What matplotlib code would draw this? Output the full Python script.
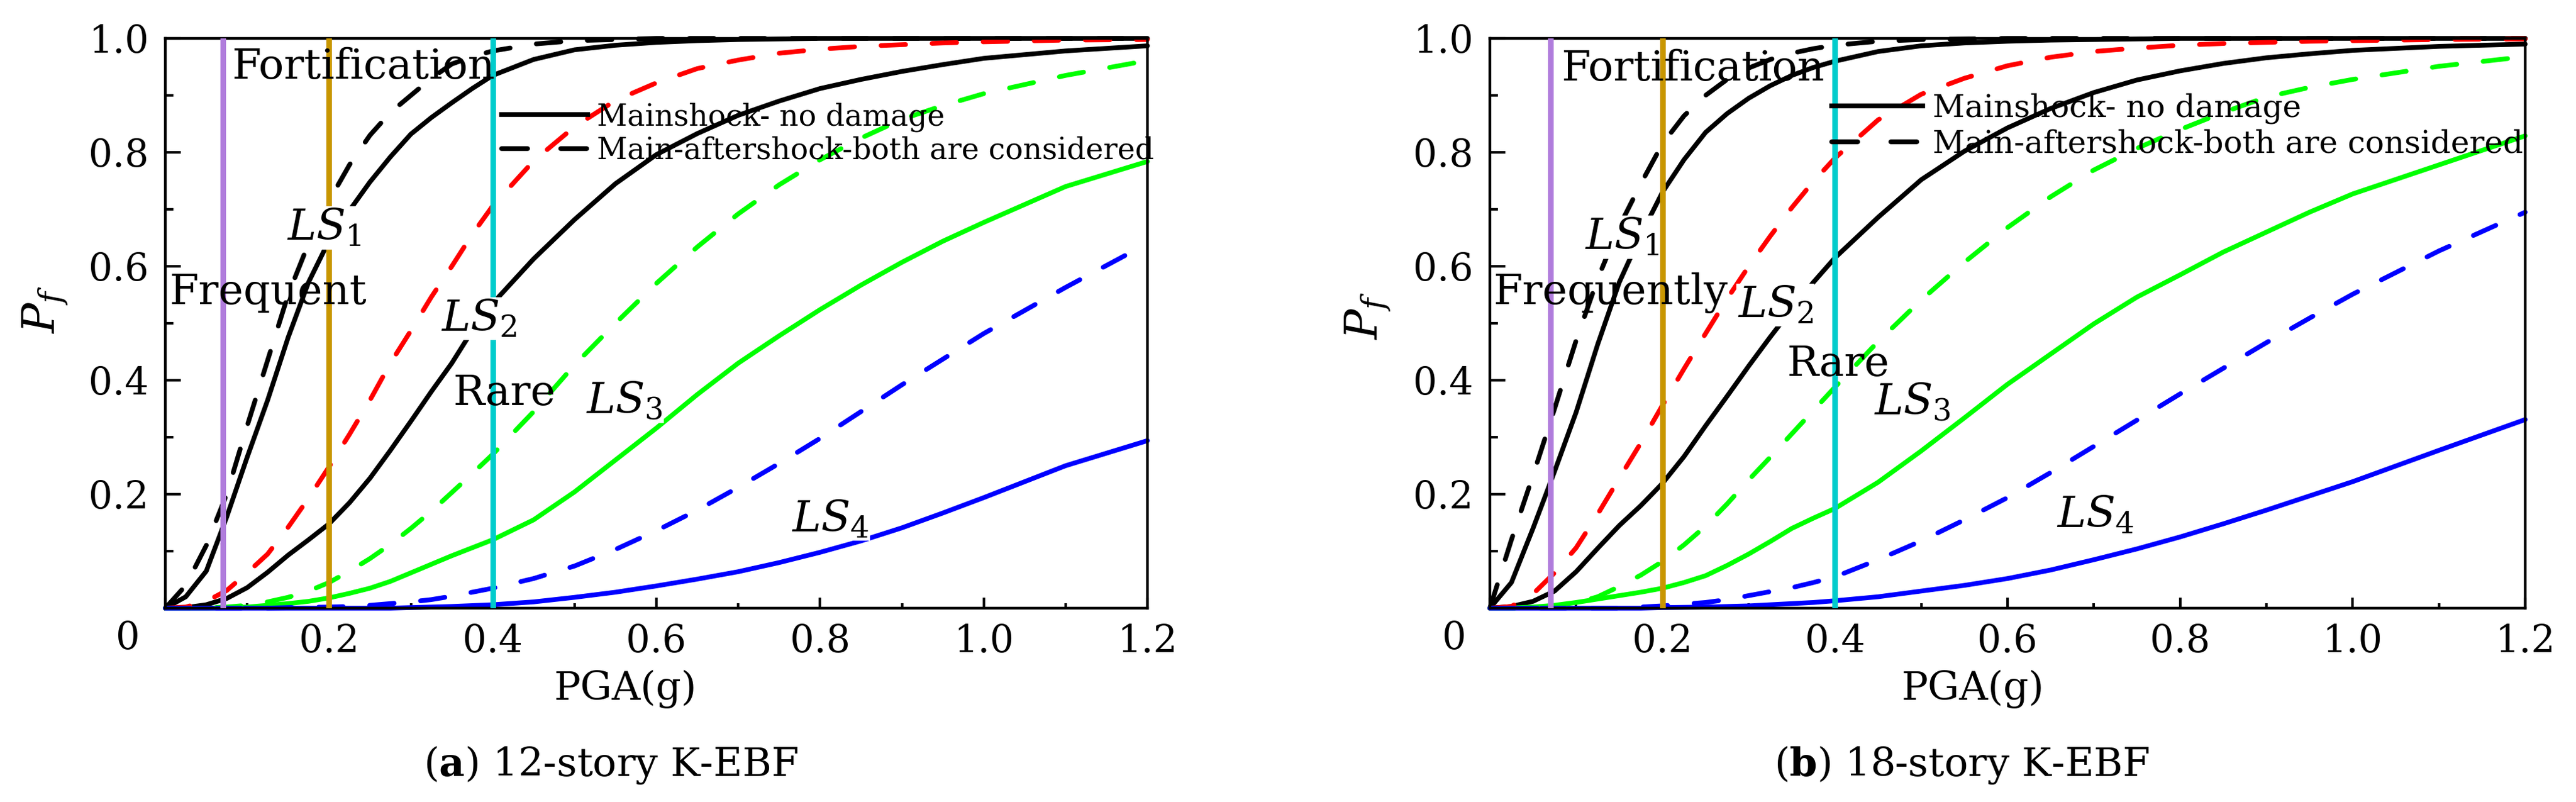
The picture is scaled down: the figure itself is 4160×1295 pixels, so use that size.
import numpy as np
import matplotlib
matplotlib.use("Agg")
import matplotlib.pyplot as plt
from matplotlib.lines import Line2D

plt.rcParams['font.family'] = 'DejaVu Serif'
plt.rcParams['mathtext.fontset'] = 'dejavuserif'

# PGA grid (g) at which the fragility curves were read
pga = [0, 0.025, 0.05, 0.075, 0.1, 0.125, 0.15, 0.175, 0.2, 0.225, 0.25, 0.275, 0.3, 0.325,
       0.35, 0.375, 0.4, 0.45, 0.5, 0.55, 0.6, 0.65, 0.7, 0.75, 0.8, 0.85, 0.9, 0.95, 1.0,
       1.1, 1.2]

# (a) 12-story K-EBF
a_ls1_main = [0, .02, .065, .16, .265, .365, .475, .572, .645, .698, .748, .792, .832, .861,
              .887, .912, .935, .963, .980, .988, .993, .996, .998, .999, 1, 1, 1, 1, 1, 1, 1]
a_ls1_after = [0, .04, .11, .2, .32, .435, .55, .64, .715, .778, .83, .87, .90, .93,
               .955, .968, .978, .99, .996, .998, 1, 1, 1, 1, 1, 1, 1, 1, 1, 1, 1]
a_ls2_main = [0, .001, .006, .017, .036, .063, .093, .12, .148, .185, .228, .277, .328, .38,
              .43, .487, .535, .613, .682, .745, .796, .833, .865, .89, .912, .928, .942, .954,
              .965, .978, .987]
a_ls2_after = [0, .002, .012, .031, .062, .095, .142, .193, .248, .305, .365, .43, .487, .546,
               .60, .656, .706, .785, .845, .891, .922, .947, .962, .974, .981, .986, .989, .992,
               .994, .997, .998]
a_ls3_main = [0, 0, 0, .001, .002, .005, .008, .012, .018, .026, .035, .047, .062, .077,
              .092, .106, .12, .155, .204, .26, .316, .375, .43, .478, .524, .567, .607, .644,
              .677, .74, .784]
a_ls3_after = [0, 0, .0005, .002, .005, .011, .019, .03, .045, .065, .087, .112, .14, .17,
               .203, .236, .27, .345, .427, .50, .57, .634, .692, .743, .787, .825, .858, .882,
               .903, .935, .961]
a_ls4_main = [0, 0, 0, 0, 0, 0, 0, 0, 0, 0, 0, 0, .001, .002,
              .003, .0045, .006, .011, .019, .028, .039, .051, .064, .08, .098, .118, .141, .167,
              .194, .25, .294]
a_ls4_after = [0, 0, 0, 0, 0, 0, .001, .0015, .002, .003, .005, .008, .011, .015,
               .021, .028, .035, .052, .074, .103, .136, .172, .212, .254, .298, .345, .392, .437,
               .482, .563, .64]

# (b) 18-story K-EBF
b_ls1_main = [0, .045, .14, .24, .344, .463, .572, .655, .73, .787, .835, .868, .895, .917,
              .935, .949, .96, .977, .987, .992, .995, .997, .998, .999, 1, 1, 1, 1, 1, 1, 1]
b_ls1_after = [0, .12, .233, .35, .47, .578, .67, .745, .815, .864, .90, .928, .948, .963,
               .974, .982, .988, .995, .998, .999, 1, 1, 1, 1, 1, 1, 1, 1, 1, 1, 1]
b_ls2_main = [0, .003, .012, .03, .064, .105, .145, .18, .219, .266, .32, .372, .425, .476,
              .525, .572, .615, .686, .752, .802, .843, .877, .905, .927, .943, .956, .966, .973,
              .979, .986, .99]
b_ls2_after = [0, .003, .025, .062, .106, .165, .228, .29, .356, .42, .482, .543, .60, .653,
               .703, .749, .79, .857, .902, .93, .952, .967, .977, .983, .988, .991, .993, .995,
               .996, .998, .999]
b_ls3_main = [0, .0005, .002, .005, .01, .016, .022, .028, .035, .045, .057, .075, .095, .117,
              .14, .158, .175, .221, .276, .334, .393, .446, .499, .546, .585, .625, .66, .695,
              .727, .778, .829]
b_ls3_after = [0, 0, .0005, .003, .009, .02, .038, .058, .082, .111, .144, .183, .225, .265,
               .306, .347, .388, .468, .541, .607, .668, .722, .769, .807, .84, .87, .897, .914,
               .928, .951, .968]
b_ls4_main = [0, 0, 0, 0, 0, 0, 0, 0, .001, .0015, .002, .003, .004, .006,
              .008, .01, .013, .02, .03, .04, .052, .067, .085, .104, .125, .148, .172, .197,
              .222, .277, .331]
b_ls4_after = [0, 0, 0, 0, 0, 0, 0, .002, .004, .007, .01, .015, .022, .029,
               .036, .045, .055, .085, .118, .155, .194, .238, .284, .33, .376, .421, .466, .509,
               .551, .627, .695]

main_colors = ['black', 'black', '#00ff00', '#0000ff']
after_colors = ['black', '#ff0000', '#00ff00', '#0000ff']

# seismic hazard levels (frequent, fortification, rare)
hazard_pga = [0.07, 0.2, 0.4]
hazard_colors = ['#b07cdc', '#c89600', '#00cccc']

xticks = [0, 0.2, 0.4, 0.6, 0.8, 1.0, 1.2]
xticklabels = ['', '0.2', '0.4', '0.6', '0.8', '1.0', '1.2']
yticks = [0.2, 0.4, 0.6, 0.8, 1.0]
yticklabels = ['0.2', '0.4', '0.6', '0.8', '1.0']

LW = 5.5
DASH = (0, (5.2, 5.6))

fig = plt.figure(figsize=(41.6, 12.95), dpi=100)
W, H = 4160, 1295
axL = fig.add_axes([267 / W, 1 - 982 / H, 1586 / W, 920 / H])
axR = fig.add_axes([2406 / W, 1 - 982 / H, 1672 / W, 920 / H])


def setup(ax):
    ax.set_xlim(0, 1.2)
    ax.set_ylim(0, 1.0)
    ax.set_xticks(xticks)
    ax.set_xticklabels(xticklabels)
    ax.set_xticks(np.arange(0.1, 1.2, 0.2), minor=True)
    ax.set_yticks(yticks)
    ax.set_yticklabels(yticklabels)
    ax.set_yticks(np.arange(0.1, 1.0, 0.2), minor=True)
    ax.tick_params(axis='both', which='both', direction='in', top=False, right=False,
                   width=3, labelsize=44)
    ax.tick_params(axis='x', which='major', length=12, pad=17)
    ax.tick_params(axis='x', which='minor', length=6)
    ax.tick_params(axis='y', which='major', length=18, pad=19)
    ax.tick_params(axis='y', which='minor', length=9.5)
    for s in ax.spines.values():
        s.set_linewidth(3.2)


def draw(ax, mains, afters):
    for ys, c in zip(mains, main_colors):
        ax.plot(pga, ys, color=c, lw=LW, solid_capstyle='round', solid_joinstyle='round',
                zorder=2, clip_on=False)
    for ys, c in zip(afters, after_colors):
        ax.plot(pga, ys, color=c, lw=LW, ls=DASH, dash_capstyle='round',
                dash_joinstyle='round', zorder=2, clip_on=False)
    for xv, c in zip(hazard_pga, hazard_colors):
        ax.axvline(xv, color=c, lw=6.5, zorder=3)


def ls_label(ax, x, y, txt):
    ax.text(x, y, txt, fontsize=50, va='baseline', ha='left', zorder=5,
            bbox=dict(facecolor='white', edgecolor='none', pad=1))


def legend(ax, x, y, size):
    h = [Line2D([], [], color='black', lw=LW),
         Line2D([], [], color='black', lw=LW, ls=(0, (5.5, 7)), dash_capstyle='round')]
    ax.legend(h, ['Mainshock- no damage', 'Main-aftershock-both are considered'],
              loc='upper left', bbox_to_anchor=(x, y), bbox_transform=ax.transData,
              frameon=False, fontsize=size, borderpad=0, borderaxespad=0,
              handlelength=2.9, handletextpad=0.32, labelspacing=0.15)


for ax in (axL, axR):
    setup(ax)

draw(axL, [a_ls1_main, a_ls2_main, a_ls3_main, a_ls4_main],
     [a_ls1_after, a_ls2_after, a_ls3_after, a_ls4_after])
draw(axR, [b_ls1_main, b_ls2_main, b_ls3_main, b_ls4_main],
     [b_ls1_after, b_ls2_after, b_ls3_after, b_ls4_after])

# left panel annotations
axL.text(0.081, 0.929, 'Fortification', fontsize=49, va='baseline', zorder=6)
axL.text(0.005, 0.534, 'Frequent', fontsize=49, va='baseline', zorder=6)
axL.text(0.351, 0.356, 'Rare', fontsize=49, va='baseline', zorder=6)
ls_label(axL, 0.148, 0.646, '$LS_1$')
ls_label(axL, 0.337, 0.487, '$LS_2$')
ls_label(axL, 0.514, 0.342, '$LS_3$')
ls_label(axL, 0.765, 0.135, '$LS_4$')
axL.text(-0.046, -0.052, '0', fontsize=44, ha='center', va='center', clip_on=False)
legend(axL, 0.411, 0.888, 34.5)

# right panel annotations
axR.text(0.0825, 0.926, 'Fortification', fontsize=49, va='baseline', zorder=6)
axR.text(0.004, 0.534, 'Frequently', fontsize=49, va='baseline', zorder=6)
axR.text(0.344, 0.408, 'Rare', fontsize=49, va='baseline', zorder=6)
ls_label(axR, 0.11, 0.63, '$LS_1$')
ls_label(axR, 0.287, 0.511, '$LS_2$')
ls_label(axR, 0.445, 0.339, '$LS_3$')
ls_label(axR, 0.657, 0.142, '$LS_4$')
axR.text(-0.041, -0.052, '0', fontsize=44, ha='center', va='center', clip_on=False)
legend(axR, 0.396, 0.904, 36.5)

# axis labels and captions
for xc in (1010, 3186):
    fig.text(xc / W, 1 - 1130 / H, 'PGA(g)', fontsize=46, ha='center', va='baseline')
for xc, yc in ((73, 500), (2209, 510)):
    fig.text(xc / W, 1 - yc / H, '$P_f$', fontsize=52, rotation=90, ha='center', va='center')
fig.text(986 / W, 1 - 1253 / H, r'($\mathbf{a}$) 12-story K-EBF', fontsize=46,
         ha='center', va='baseline')
fig.text(3168 / W, 1 - 1253 / H, r'($\mathbf{b}$) 18-story K-EBF', fontsize=46,
         ha='center', va='baseline')

fig.savefig('out.png', dpi=100)
